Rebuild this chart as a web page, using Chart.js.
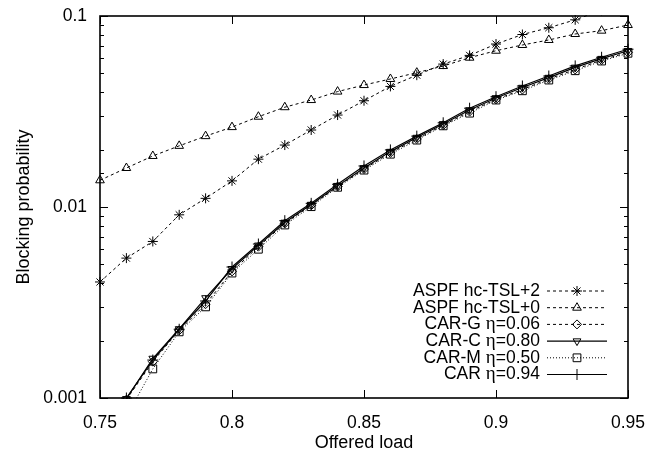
<!DOCTYPE html>
<html>
<head>
<meta charset="utf-8">
<script src="https://cdn.jsdelivr.net/npm/chart.js@4.4.1/dist/chart.umd.min.js"></script>
<style>
  html, body { margin: 0; padding: 0; background: #fff; }
  #wrap { width: 661px; height: 454px; position: relative; }
</style>
</head>
<body>
<div id="wrap"><canvas id="chart"></canvas></div>
<script>
// offered load on the x axis
const loads = [0.75, 0.76, 0.77, 0.78, 0.79, 0.80, 0.81, 0.82, 0.83, 0.84, 0.85,
               0.86, 0.87, 0.88, 0.89, 0.90, 0.91, 0.92, 0.93, 0.94, 0.95];

// blocking probability per series
const aspfTsl2 = [0.00405, 0.0054, 0.0066, 0.0091, 0.0111, 0.0137, 0.0178, 0.0211, 0.0253, 0.0303, 0.0360,
                  0.0428, 0.0490, 0.0560, 0.0622, 0.0713, 0.0800, 0.0868, 0.0955, 0.107, 0.118];
const aspfTsl0 = [0.0138, 0.0160, 0.0185, 0.0209, 0.0235, 0.0262, 0.0297, 0.0333, 0.0363, 0.0402, 0.0435,
                  0.0468, 0.0505, 0.0547, 0.0605, 0.0658, 0.0705, 0.0749, 0.0805, 0.0838, 0.0897];
const carG = [null, 0.00098, 0.00155, 0.00226, 0.00310, 0.00460, 0.0062, 0.0082, 0.0102, 0.0128, 0.0158,
              0.0192, 0.0227, 0.0268, 0.0316, 0.0366, 0.0412, 0.0468, 0.0525, 0.0588, 0.0645];
const carC = [null, 0.00099, 0.00161, 0.00230, 0.00334, 0.00475, 0.0063, 0.0083, 0.0103, 0.0129, 0.0160,
              0.0195, 0.0231, 0.0272, 0.0322, 0.0372, 0.0422, 0.0476, 0.0538, 0.0598, 0.0658];
const carM = [null, 0.00080, 0.00142, 0.00222, 0.00300, 0.00451, 0.00601, 0.00805, 0.01004, 0.01268, 0.0156,
              0.0189, 0.0224, 0.0266, 0.0310, 0.0363, 0.0406, 0.0462, 0.0517, 0.0581, 0.0638];
const car = [null, 0.00100, 0.00158, 0.00229, 0.00322, 0.00485, 0.0064, 0.00848, 0.01045, 0.01315, 0.0164,
             0.0199, 0.0235, 0.0276, 0.0329, 0.0378, 0.0430, 0.0485, 0.0548, 0.0608, 0.0670];

const seriesLabels = ['ASPF hc-TSL+2', 'ASPF hc-TSL+0', 'CAR-G η=0.06', 'CAR-C η=0.80', 'CAR-M η=0.50', 'CAR η=0.94'];
const xTickLabels = ['0.75', '0.8', '0.85', '0.9', '0.95'];
const yTickLabels = ['0.001', '0.01', '0.1'];

const SANS = '"Liberation Sans", Arial, sans-serif';
const SERIF = '"Liberation Serif", "Times New Roman", serif';
Chart.defaults.color = '#000';
Chart.defaults.font.family = SANS;

function pts(ys) {
  return loads.map((x, i) => ({ x, y: ys[i] }));
}

function series(label, ys, style, dash, extra) {
  return Object.assign({
    label,
    data: pts(ys),
    borderColor: '#000',
    backgroundColor: 'rgba(0,0,0,0)',
    borderWidth: dash.length ? 1 : 1.2,
    borderDash: dash,
    pointStyle: style,
    pointRadius: 4.5,
    pointBorderWidth: 1,
    pointBorderColor: '#000',
    pointBackgroundColor: 'rgba(0,0,0,0)',
    tension: 0,
    spanGaps: false,
    clip: { left: 10, right: 10, top: 1, bottom: 1 },
  }, extra || {});
}

function isDecade(v) {
  const e = Math.log10(v);
  return Math.abs(e - Math.round(e)) < 1e-6;
}

// inward ticks on all four sides plus the frame
const frameTicks = {
  id: 'frameTicks',
  afterDatasetsDraw(chart) {
    const { ctx, chartArea: a, scales: { x, y } } = chart;
    ctx.save();
    ctx.strokeStyle = '#000';
    ctx.lineWidth = 1;
    ctx.beginPath();
    x.ticks.forEach(t => {
      const px = Math.round(x.getPixelForValue(t.value)) + 0.5;
      ctx.moveTo(px, a.bottom); ctx.lineTo(px, a.bottom - 8);
      ctx.moveTo(px, a.top); ctx.lineTo(px, a.top + 8);
    });
    y.ticks.forEach(t => {
      const py = Math.round(y.getPixelForValue(t.value)) + 0.5;
      const len = isDecade(t.value) ? 8 : 4;
      ctx.moveTo(a.left, py); ctx.lineTo(a.left + len, py);
      ctx.moveTo(a.right, py); ctx.lineTo(a.right - len, py);
    });
    ctx.stroke();
    ctx.lineWidth = 1.6;
    ctx.strokeRect(a.left, a.top, a.right - a.left, a.bottom - a.top);
    ctx.restore();
  }
};

// gnuplot style key inside the plot, text right aligned, sample on the right
const innerKey = {
  id: 'innerKey',
  afterDraw(chart) {
    const ctx = chart.ctx;
    const textRight = 540, lineL = 547, lineR = 607, top = 291, step = 16.7;
    ctx.save();
    chart.data.datasets.forEach((ds, i) => {
      const y = top + i * step;
      const parts = ds.label.split('η');
      ctx.textBaseline = 'middle';
      const sansFont = '17.5px ' + SANS, serifFont = '19px ' + SERIF;
      let w = 0;
      parts.forEach((p, k) => {
        ctx.font = sansFont; w += ctx.measureText(p).width;
        if (k < parts.length - 1) { ctx.font = serifFont; w += ctx.measureText('η').width; }
      });
      let cx = textRight - w;
      ctx.fillStyle = '#000';
      parts.forEach((p, k) => {
        ctx.font = sansFont; ctx.fillText(p, cx, y); cx += ctx.measureText(p).width;
        if (k < parts.length - 1) { ctx.font = serifFont; ctx.fillText('η', cx, y); cx += ctx.measureText('η').width; }
      });
      ctx.strokeStyle = '#000';
      ctx.lineWidth = ds.borderWidth;
      ctx.setLineDash(ds.borderDash);
      ctx.beginPath(); ctx.moveTo(lineL, y); ctx.lineTo(lineR, y); ctx.stroke();
      ctx.setLineDash([]);
      ctx.lineWidth = 1;
      ctx.fillStyle = 'rgba(0,0,0,0)';
      Chart.helpers.drawPoint(ctx, {
        pointStyle: ds.pointStyle, radius: ds.pointRadius,
        rotation: ds.pointRotation || 0, borderWidth: 1
      }, (lineL + lineR) / 2, y);
    });
    ctx.restore();
  }
};

new Chart(document.getElementById('chart'), {
  type: 'line',
  data: {
    datasets: [
      series(seriesLabels[0], aspfTsl2, 'star', [3, 3], { pointRadius: 5 }),
      series(seriesLabels[1], aspfTsl0, 'triangle', [3, 3], { pointRadius: 5 }),
      series(seriesLabels[2], carG, 'rectRot', [3, 3]),
      series(seriesLabels[3], carC, 'triangle', [], { pointRotation: 180 }),
      series(seriesLabels[4], carM, 'rect', [1, 2], { pointRadius: 5.5 }),
      series(seriesLabels[5], car, 'cross', [], { pointRadius: 5.5 }),
    ],
  },
  options: {
    responsive: true,
    maintainAspectRatio: false,
    animation: false,
    layout: { padding: { left: 0, right: 33, top: 16, bottom: 0 } },
    plugins: { legend: { display: false }, tooltip: { enabled: false } },
    scales: {
      x: {
        type: 'linear',
        min: 0.75,
        max: 0.95,
        grid: { display: false, drawTicks: false },
        border: { display: false },
        ticks: {
          stepSize: 0.05,
          padding: 15,
          font: { size: 17.5 },
          callback: (v, i) => xTickLabels[i],
        },
        title: { display: true, text: 'Offered load', font: { size: 18 }, padding: { top: 0, bottom: 0 } },
        afterFit: (s) => { s.height = 56; s.paddingLeft = 0; s.paddingRight = 0; },
      },
      y: {
        type: 'logarithmic',
        min: 0.001,
        max: 0.1,
        grid: { display: false, drawTicks: false },
        border: { display: false },
        ticks: {
          autoSkip: false,
          padding: 13,
          font: { size: 17.5 },
          callback: (v) => isDecade(v) ? yTickLabels[Math.round(Math.log10(v)) + 3] : '',
        },
        title: { display: true, text: 'Blocking probability', font: { size: 18 }, padding: { top: 13, bottom: 0 } },
        afterFit: (s) => { s.width = 100; s.paddingTop = 0; s.paddingBottom = 0; },
      },
    },
  },
  plugins: [frameTicks, innerKey],
});
</script>
</body>
</html>
